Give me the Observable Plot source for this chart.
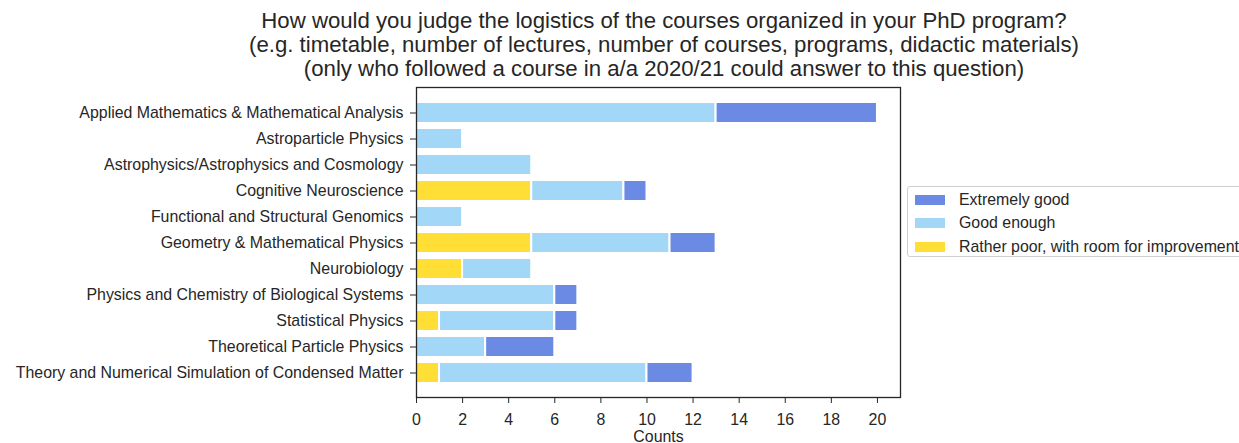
<!DOCTYPE html>
<html>
<head>
<meta charset="utf-8">
<script src="https://cdn.jsdelivr.net/npm/d3@7"></script>
<script src="https://cdn.jsdelivr.net/npm/@observablehq/plot@0.6"></script>
<style>
  html, body { margin: 0; padding: 0; background: white; overflow: hidden; }
  #wrap { position: relative; width: 1239px; height: 443px; font-family: "Liberation Sans", Arial, sans-serif; color: #262626; }
  #chart { position: absolute; left: 0; top: 0; }
  #title { position: absolute; left: 364px; width: 600px; top: 9px; text-align: center; font-size: 22.2px; line-height: 24px; white-space: nowrap; display: flex; flex-direction: column; align-items: center; }
  #legend { position: absolute; left: 907px; top: 186px; width: 345px; height: 71px; border: 1px solid #cfcfcf; border-radius: 3px; padding-top: 1px; box-sizing: border-box; font-size: 15.9px; }
  .row { display: flex; align-items: center; height: 23.5px; }
  .sw { width: 30px; height: 10px; margin-left: 7px; margin-right: 14px; }
</style>
</head>
<body>
<div id="wrap">
  <div id="chart"></div>
  <div id="title"></div>
  <div id="legend"></div>
</div>
<script>
const programs = [
  "Applied Mathematics & Mathematical Analysis",
  "Astroparticle Physics",
  "Astrophysics/Astrophysics and Cosmology",
  "Cognitive Neuroscience",
  "Functional and Structural Genomics",
  "Geometry & Mathematical Physics",
  "Neurobiology",
  "Physics and Chemistry of Biological Systems",
  "Statistical Physics",
  "Theoretical Particle Physics",
  "Theory and Numerical Simulation of Condensed Matter"
];
const ratherPoor = [0, 0, 0, 5, 0, 5, 2, 0, 1, 0, 1];
const goodEnough = [13, 2, 5, 4, 2, 6, 3, 6, 5, 3, 9];
const extremelyGood = [7, 0, 0, 1, 0, 2, 0, 1, 1, 3, 2];
const levels = ["Rather poor, with room for improvement", "Good enough", "Extremely good"];
const levelColors = ["#ffdf36", "#a3d7f8", "#6a8ae4"];
const legendOrder = ["Extremely good", "Good enough", "Rather poor, with room for improvement"];
const xTicks = [0, 2, 4, 6, 8, 10, 12, 14, 16, 18, 20];
const titleLines = [
  "How would you judge the logistics of the courses organized in your PhD program?",
  "(e.g. timetable, number of lectures, number of courses, programs, didactic materials)",
  "(only who followed a course in a/a 2020/21 could answer to this question)"
];
const xLabel = "Counts";

const series = [ratherPoor, goodEnough, extremelyGood];
const rows = [];
programs.forEach((p, i) => {
  levels.forEach((lv, j) => {
    const v = series[j][i];
    if (v > 0) rows.push({program: p, level: lv, count: v});
  });
});

const font = "'Liberation Sans', Arial, sans-serif";
const chart = Plot.plot({
  width: 1239,
  height: 443,
  marginLeft: 416,
  marginRight: 339,
  marginTop: 87,
  marginBottom: 46,
  style: {fontFamily: font, fontSize: "15.9px", color: "#262626", background: "white"},
  x: {domain: [0, 21]},
  y: {domain: programs, paddingInner: 0.2, paddingOuter: 0.54},
  color: {domain: levels, range: levelColors},
  marks: [
    Plot.barX(rows, Plot.stackX({y: "program", x: "count", fill: "level", stroke: "white", strokeWidth: 2, order: null})),
    Plot.frame({stroke: "#262626", strokeWidth: 1.3}),
    Plot.axisY({tickSize: 6, tickPadding: 7, label: null, fontSize: 15.9}),
    Plot.axisX({ticks: xTicks, tickSize: 6, tickPadding: 10, fontSize: 15.9, label: xLabel, labelAnchor: "center", labelArrow: "none", labelOffset: 44})
  ]
});
document.getElementById("chart").appendChild(chart);

const t = document.getElementById("title");
titleLines.forEach(s => { const d = document.createElement("div"); d.textContent = s; t.appendChild(d); });

const lg = document.getElementById("legend");
legendOrder.forEach(lv => {
  const r = document.createElement("div"); r.className = "row";
  const sw = document.createElement("div"); sw.className = "sw"; sw.style.background = levelColors[levels.indexOf(lv)];
  const tx = document.createElement("span"); tx.textContent = lv;
  r.appendChild(sw); r.appendChild(tx); lg.appendChild(r);
});
</script>
</body>
</html>
